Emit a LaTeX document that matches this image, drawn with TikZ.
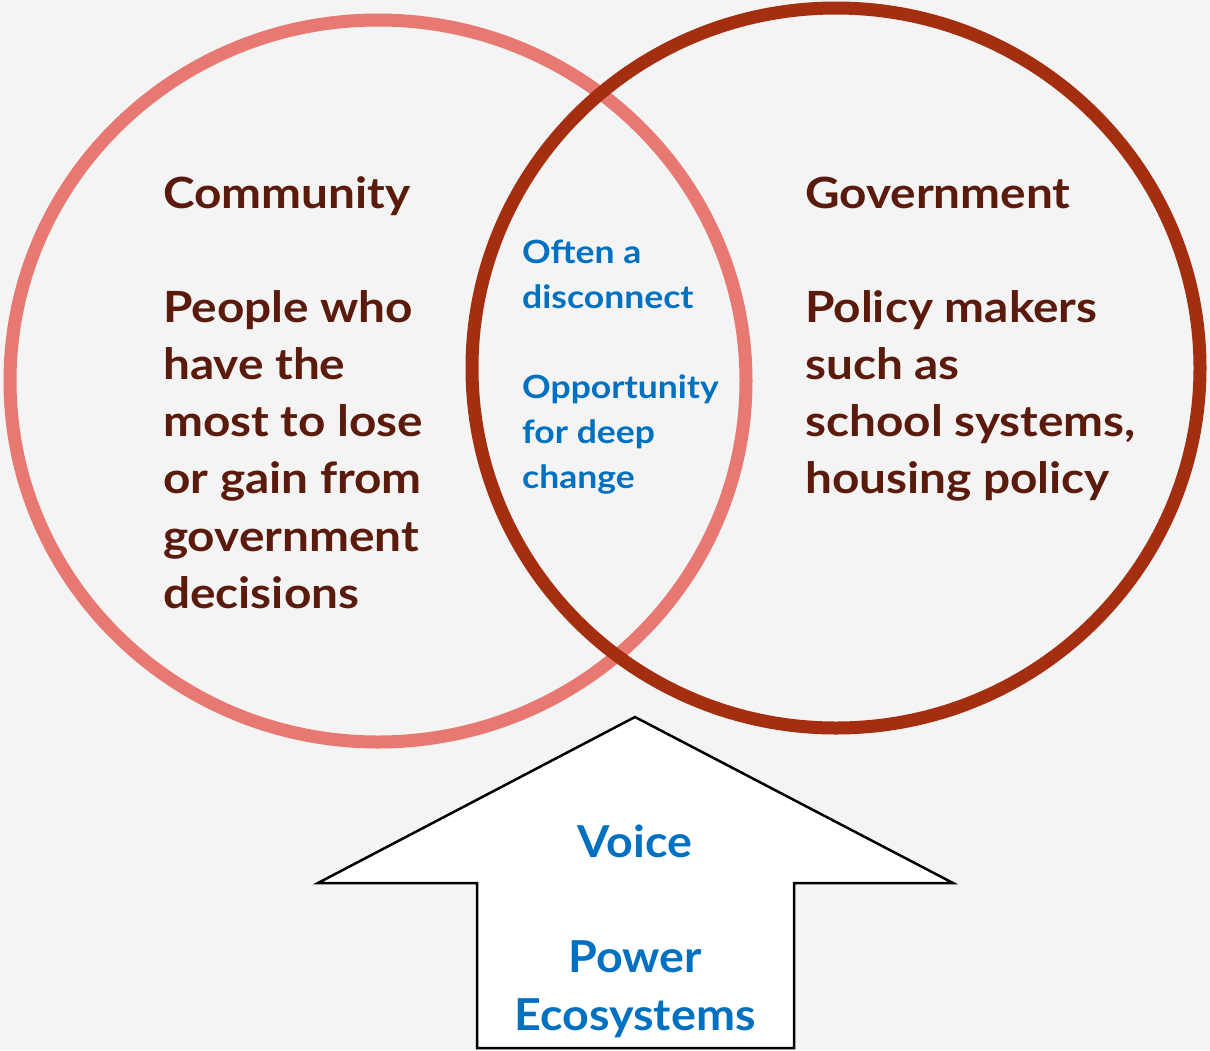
\documentclass[tikz,border=0pt]{standalone}
\usepackage{fontspec}
\setmainfont{Lato}
\newfontfamily\latob[FakeStretch=1.11]{Lato}
\newfontfamily\latow[FakeStretch=1.06]{Lato}
\definecolor{bgc}{HTML}{F4F4F4}
\definecolor{pinkc}{HTML}{E87872}
\definecolor{redc}{HTML}{A32F10}
\definecolor{brownc}{HTML}{5A1A0C}
\definecolor{bluec}{HTML}{0070C0}
\tikzset{
  ring/.style={line width=13pt},
  browntext/.style={text=brownc, font=\latob\bfseries\fontsize{43}{57}\selectfont, inner sep=0pt, anchor=base west},
  midtext/.style={text=bluec, font=\latob\bfseries\fontsize{32}{45}\selectfont, inner sep=0pt, anchor=base west},
  arrowtext/.style={text=bluec, font=\latow\bfseries\fontsize{44}{58}\selectfont, inner sep=0pt, anchor=base},
}
\begin{document}
\begin{tikzpicture}[x=1pt,y=-1pt]
\useasboundingbox (0,0) rectangle (1210,1050);
\fill[bgc] (0,0) rectangle (1210,1050);
\begin{scope}
\clip (0,0) rectangle (1210,1050);
\draw[ring, pinkc] (378,381) ellipse [x radius=368, y radius=361];
\draw[ring, redc] (836,368) ellipse [x radius=364, y radius=360];
\draw[line width=2.5pt, fill=white, line join=miter]
  (635,717) -- (953,883) -- (794,883) -- (794,1048) -- (477,1048) -- (477,883) -- (318,883) -- cycle;
\end{scope}
\node[browntext] (ct) at (163,208) {Community};
\foreach \t [count=\i] in {People who, have the, most to lose, or gain from, government, decisions}
  \node[browntext] (cl\i) at (163,{322+57.3*(\i-1)}) {\t};
\node[browntext] (gt) at (805,208) {Government};
\foreach \t [count=\i] in {Policy makers, such as, {school systems,}, housing policy}
  \node[browntext] (gl\i) at (805,{322+57.3*(\i-1)}) {\t};
\foreach \t [count=\i] in {Often a, disconnect}
  \node[midtext] (ma\i) at (522,{263+45*(\i-1)}) {\t};
\foreach \t [count=\i] in {Opportunity, for deep, change}
  \node[midtext] (mb\i) at (522,{398+45*(\i-1)}) {\t};
\node[arrowtext] (voice) at (635,857) {Voice};
\node[arrowtext] (power) at (635,972) {Power};
\node[arrowtext] (eco) at (635,1030) {Ecosystems};
\end{tikzpicture}
\end{document}
